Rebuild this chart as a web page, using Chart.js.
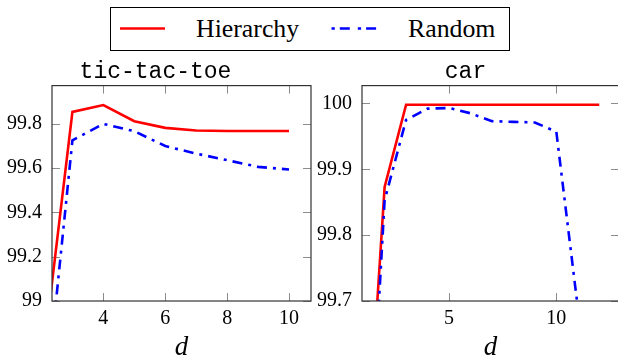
<!DOCTYPE html>
<html>
<head>
<meta charset="utf-8">
<script src="https://cdn.jsdelivr.net/npm/chart.js@4"></script>
<style>
  body { margin: 0; width: 618px; height: 361px; background: #fff; overflow: hidden; position: relative; }
  canvas { position: absolute; top: 50px; }
</style>
</head>
<body>
<svg width="618" height="52" style="position:absolute;left:0;top:0">
  <rect x="110.5" y="7.5" width="399" height="43" fill="none" stroke="#000" stroke-width="1"/>
  <line x1="120" y1="28.5" x2="165" y2="28.5" stroke="#ff0000" stroke-width="2.6"/>
  <text x="196" y="37" font-family="'Liberation Serif', serif" font-size="25.8">Hierarchy</text>
  <line x1="331.5" y1="28.5" x2="378" y2="28.5" stroke="#0000ff" stroke-width="2.6" stroke-dasharray="3.3 5 10 8"/>
  <text x="408" y="37" font-family="'Liberation Serif', serif" font-size="25.8">Random</text>
</svg>
<canvas id="ttt" width="312" height="311" style="left:0"></canvas>
<canvas id="car" width="308" height="311" style="left:312px"></canvas>
<script>
// tic-tac-toe panel
let tttD = [2, 3, 4, 5, 6, 7, 8, 9, 10];
let tttHier = [98.684, 99.854, 99.885, 99.812, 99.782, 99.77, 99.768, 99.768, 99.768];
let tttRand = [98.356, 99.726, 99.80, 99.767, 99.70, 99.666, 99.636, 99.606, 99.594];
let tttXTicks = [4, 6, 8, 10];
let tttYTicks = [99, 99.2, 99.4, 99.6, 99.8];
let tttYLabels = ["99", "99.2", "99.4", "99.6", "99.8"];

// car panel
let carD = [1, 2, 3, 4, 5, 6, 7, 8, 9, 10, 11, 12];
let carHier = [99.364, 99.873, 99.998, 99.998, 99.998, 99.998, 99.998, 99.998, 99.998, 99.998, 99.998, 99.998];
let carRand = [99.27, 99.853, 99.975, 99.992, 99.993, 99.985, 99.973, 99.972, 99.971, 99.957, 99.69];
let carXTicks = [5, 10];
let carYTicks = [99.7, 99.8, 99.9, 100];
let carYLabels = ["99.7", "99.8", "99.9", "100"];

let serif = "'Liberation Serif', serif";
let mono = "'Liberation Mono', monospace";

// box round the plot area, with short grey ticks on the inside
const tickMarks = {
    id: "tickMarks",
    beforeDatasetsDraw(chart) {
        let { ctx, chartArea: a, scales } = chart;
        ctx.save();
        ctx.strokeStyle = "#8c8c8c";
        ctx.lineWidth = 1;
        ctx.beginPath();
        scales.x.ticks.forEach(t => {
            let px = Math.round(scales.x.getPixelForValue(t.value)) + 0.5;
            ctx.moveTo(px, a.bottom); ctx.lineTo(px, a.bottom - 8);
            ctx.moveTo(px, a.top); ctx.lineTo(px, a.top + 8);
        });
        scales.y.ticks.forEach(t => {
            let py = Math.round(scales.y.getPixelForValue(t.value)) + 0.5;
            ctx.moveTo(a.left, py); ctx.lineTo(a.left + 8, py);
            ctx.moveTo(a.right, py); ctx.lineTo(a.right - 8, py);
        });
        ctx.stroke();
        ctx.restore();
    },
    afterDatasetsDraw(chart) {
        let { ctx, chartArea: a } = chart;
        ctx.save();
        ctx.strokeStyle = "#333";
        ctx.lineWidth = 1.2;
        ctx.strokeRect(a.left, a.top, a.right - a.left, a.bottom - a.top);
        ctx.restore();
    }
};

function points(xs, ys) {
    return ys.map((y, i) => ({ x: xs[i], y: y }));
}

function makeChart(id, title, d, hier, rand, xMin, xMax, xTicks, yMin, yMax, yTicks, yLabels, yWidth) {
    let ctx = document.getElementById(id).getContext("2d");
    return new Chart(ctx, {
        type: "line",
        data: {
            datasets: [{
                label: "Hierarchy",
                data: points(d, hier),
                borderColor: "#ff0000",
                borderWidth: 2.6,
                pointRadius: 0,
                tension: 0,
                clip: 0,
                order: 1
            }, {
                label: "Random",
                data: points(d, rand),
                borderColor: "#0000ff",
                borderWidth: 2.6,
                borderDash: [10, 6, 3, 6],
                pointRadius: 0,
                tension: 0,
                clip: 0,
                order: 0
            }]
        },
        options: {
            responsive: false,
            animation: false,
            layout: { padding: { right: 1 } },
            scales: {
                x: {
                    type: "linear",
                    min: xMin,
                    max: xMax,
                    grid: { display: false, drawTicks: false },
                    border: { display: false },
                    afterBuildTicks: s => { s.ticks = xTicks.map(v => ({ value: v })); },
                    afterFit: s => { s.height = 60; },
                    ticks: {
                        font: { family: serif, size: 20 },
                        color: "#000",
                        padding: 6,
                        maxRotation: 0,
                        callback: (v, i) => String(xTicks[i])
                    },
                    title: {
                        display: true,
                        text: "d",
                        color: "#000",
                        font: { family: serif, size: 27, style: "italic", lineHeight: 1 },
                        padding: 0
                    }
                },
                y: {
                    min: yMin,
                    max: yMax,
                    grid: { display: false, drawTicks: false },
                    border: { display: false },
                    afterBuildTicks: s => { s.ticks = yTicks.map(v => ({ value: v })); },
                    afterFit: s => { s.width = yWidth; },
                    ticks: {
                        font: { family: serif, size: 20 },
                        color: "#000",
                        padding: 10,
                        callback: (v, i) => yLabels[i]
                    }
                }
            },
            plugins: {
                legend: { display: false },
                tooltip: { enabled: false },
                title: {
                    display: true,
                    text: title,
                    color: "#000",
                    font: { family: mono, size: 23, weight: "normal" },
                    padding: { top: 8, bottom: 0 }
                }
            }
        },
        plugins: [tickMarks]
    });
}

// canvas text needs the fonts loaded first
Promise.all([
    document.fonts.load("20px 'Liberation Serif'"),
    document.fonts.load("italic 27px 'Liberation Serif'"),
    document.fonts.load("23px 'Liberation Mono'")
]).catch(() => {}).then(() => {
    makeChart("ttt", "tic-tac-toe", tttD, tttHier, tttRand, 2.34, 10.71, tttXTicks, 99, 99.973, tttYTicks, tttYLabels, 52);
    makeChart("car", "car", carD, carHier, carRand, 0.946, 12.92, carXTicks, 99.7, 100.027, carYTicks, carYLabels, 50);
});
</script>
</body>
</html>
